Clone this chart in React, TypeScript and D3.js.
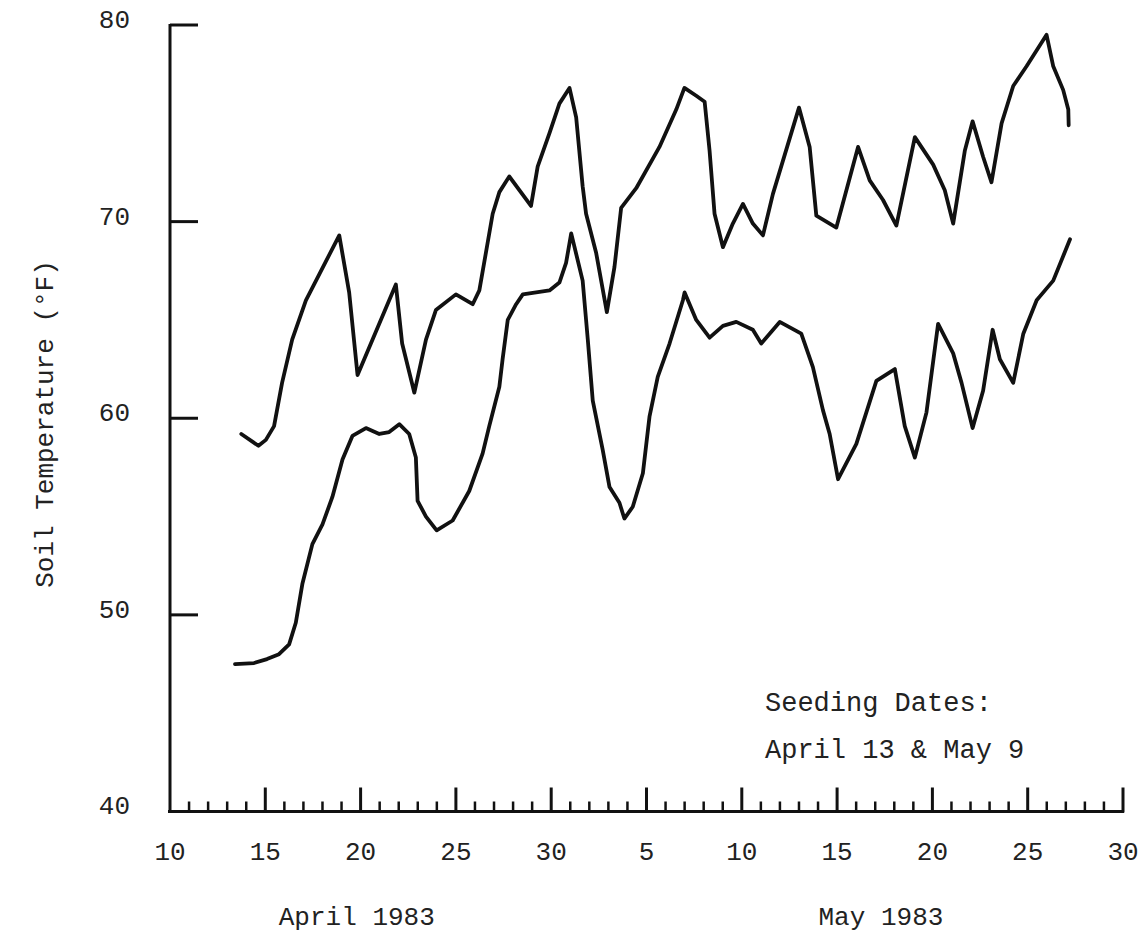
import React from "react";
import * as d3 from "d3";

// Day index: April d = d, May d = 30 + d
const upperDays = [13.74, 14.64, 15.03, 15.46, 15.88, 16.41, 17.13, 18.88, 19.4, 19.84, 21.5, 21.85, 22.18, 22.82, 23.43, 23.95, 25.0, 25.88, 26.23, 26.93, 27.28, 27.8, 28.94, 29.29, 29.91, 30.43, 30.96, 31.31, 31.65, 31.83, 32.36, 32.92, 33.32, 33.67, 34.46, 35.68, 36.56, 36.99, 37.61, 38.05, 38.31, 38.57, 39.01, 39.53, 40.06, 40.58, 41.11, 41.63, 43.0, 43.56, 43.91, 44.96, 46.1, 46.71, 47.41, 48.11, 49.08, 50.04, 50.65, 51.09, 51.7, 52.11, 52.66, 53.1, 53.63, 54.24, 54.94, 55.99, 56.34, 56.86, 57.13, 57.15];
const upperTemps = [59.2, 58.6, 58.9, 59.6, 61.8, 64.0, 66.0, 69.3, 66.4, 62.2, 66.0, 66.8, 63.8, 61.3, 64.0, 65.5, 66.3, 65.8, 66.5, 70.4, 71.5, 72.3, 70.8, 72.8, 74.5, 76.0, 76.8, 75.3, 71.8, 70.4, 68.4, 65.4, 67.7, 70.7, 71.7, 73.8, 75.7, 76.8, 76.4, 76.1, 73.6, 70.4, 68.7, 69.9, 70.9, 69.9, 69.3, 71.4, 75.8, 73.8, 70.3, 69.7, 73.8, 72.1, 71.1, 69.8, 74.3, 72.9, 71.6, 69.9, 73.6, 75.1, 73.3, 72.0, 75.0, 76.9, 77.9, 79.5, 77.9, 76.7, 75.7, 74.9];

const lowerDays = [13.41, 14.41, 15.09, 15.72, 16.25, 16.6, 16.95, 17.47, 18.0, 18.52, 19.05, 19.57, 20.28, 20.98, 21.5, 22.03, 22.55, 22.9, 22.99, 23.43, 23.99, 24.83, 25.7, 26.4, 26.75, 27.28, 27.45, 27.72, 28.16, 28.51, 29.91, 30.43, 30.78, 31.05, 31.65, 31.83, 31.92, 32.18, 32.7, 33.06, 33.58, 33.84, 34.28, 34.81, 35.16, 35.59, 36.21, 36.91, 37.0, 37.61, 38.31, 39.01, 39.71, 40.58, 41.02, 41.99, 43.12, 43.73, 44.26, 44.61, 45.05, 46.01, 47.06, 48.03, 48.55, 49.08, 49.69, 50.3, 51.09, 51.53, 52.11, 52.66, 53.16, 53.54, 54.24, 54.77, 55.47, 55.64, 56.34, 57.22];
const lowerTemps = [47.5, 47.55, 47.75, 48.0, 48.5, 49.6, 51.6, 53.6, 54.6, 56.0, 57.9, 59.1, 59.5, 59.2, 59.3, 59.7, 59.2, 58.0, 55.8, 55.0, 54.3, 54.8, 56.3, 58.2, 59.6, 61.6, 63.0, 65.0, 65.8, 66.3, 66.5, 66.9, 67.9, 69.4, 67.0, 65.0, 64.0, 60.9, 58.4, 56.5, 55.7, 54.9, 55.5, 57.2, 60.1, 62.1, 63.8, 66.0, 66.4, 65.0, 64.1, 64.7, 64.9, 64.5, 63.8, 64.9, 64.3, 62.6, 60.4, 59.2, 56.9, 58.7, 61.9, 62.5, 59.6, 58.0, 60.3, 64.8, 63.3, 61.8, 59.5, 61.4, 64.5, 63.0, 61.8, 64.3, 66.0, 66.2, 67.0, 69.1];

const yTicks = [40, 50, 60, 70, 80];
const xTickDays = [10, 15, 20, 25, 30, 35, 40, 45, 50, 55, 60];
const xTickLabels = ["10", "15", "20", "25", "30", "5", "10", "15", "20", "25", "30"];
const monthLabels = ["April 1983", "May 1983"];
const monthCenters = [19.8, 47.3];
const yTitle = "Soil Temperature (°F)";
const noteLines = ["Seeding Dates:", "April 13 & May 9"];

const FONT = "'Liberation Mono', 'DejaVu Sans Mono', monospace";

export default function App() {
  const W = 1147;
  const H = 936;
  const x = d3.scaleLinear().domain([10, 60]).range([170, 1123]);
  const y = d3.scaleLinear().domain([40, 80]).range([811.5, 25]);

  const line = d3
    .line<[number, number]>()
    .x((d) => x(d[0]))
    .y((d) => y(d[1]))
    .curve(d3.curveLinear);

  const upper: [number, number][] = upperDays.map((d, i) => [d, upperTemps[i]]);
  const lower: [number, number][] = lowerDays.map((d, i) => [d, lowerTemps[i]]);

  const dayTicks = d3.range(11, 61);

  return (
    <svg
      width={W}
      height={H}
      viewBox={`0 0 ${W} ${H}`}
      style={{ position: "absolute", left: 0, top: 0, display: "block", background: "#fff" }}
    >
      <rect x={0} y={0} width={W} height={H} fill="#fff" />
      {/* y axis */}
      <line x1={x(10)} y1={y(80) - 1} x2={x(10)} y2={y(40) + 1} stroke="#111" strokeWidth={3} />
      {yTicks
        .filter((t) => t > 40)
        .map((t) => (
          <line key={"yt" + t} x1={x(10)} x2={x(10) + 28} y1={y(t)} y2={y(t)} stroke="#111" strokeWidth={3} />
        ))}
      {yTicks.map((t) => (
        <text
          key={"yl" + t}
          x={130}
          y={y(t) - 4}
          textAnchor="end"
          dominantBaseline="middle"
          fontFamily={FONT}
          fontSize={26}
          fill="#222"
        >
          {t}
        </text>
      ))}
      <text
        transform={`translate(53, 424) rotate(-90)`}
        textAnchor="middle"
        fontFamily={FONT}
        fontSize={26}
        fill="#222"
      >
        {yTitle}
      </text>

      {/* x axis */}
      <line x1={x(10) - 2} x2={x(60) + 1} y1={y(40)} y2={y(40)} stroke="#111" strokeWidth={3} />
      {dayTicks.map((d) => {
        const major = d % 5 === 0;
        return (
          <line
            key={"xt" + d}
            x1={x(d)}
            x2={x(d)}
            y1={y(40) + 1}
            y2={y(40) - (major ? 24 : 10)}
            stroke="#111"
            strokeWidth={major ? 3 : 2.5}
          />
        );
      })}
      {xTickDays.map((d, i) => (
        <text
          key={"xl" + i}
          x={x(d)}
          y={860}
          textAnchor="middle"
          fontFamily={FONT}
          fontSize={26}
          fill="#222"
        >
          {xTickLabels[i]}
        </text>
      ))}
      {monthLabels.map((m, i) => (
        <text
          key={"ml" + i}
          x={x(monthCenters[i])}
          y={925}
          textAnchor="middle"
          fontFamily={FONT}
          fontSize={26}
          fill="#222"
        >
          {m}
        </text>
      ))}

      {/* series */}
      <path d={line(upper) || ""} fill="none" stroke="#111" strokeWidth={3.8} strokeLinejoin="round" strokeLinecap="round" />
      <path d={line(lower) || ""} fill="none" stroke="#111" strokeWidth={3.8} strokeLinejoin="round" strokeLinecap="round" />

      {/* note */}
      {noteLines.map((t, i) => (
        <text
          key={"n" + i}
          x={765}
          y={711 + i * 47}
          textAnchor="start"
          fontFamily={FONT}
          fontSize={27}
          fill="#222"
        >
          {t}
        </text>
      ))}
    </svg>
  );
}
